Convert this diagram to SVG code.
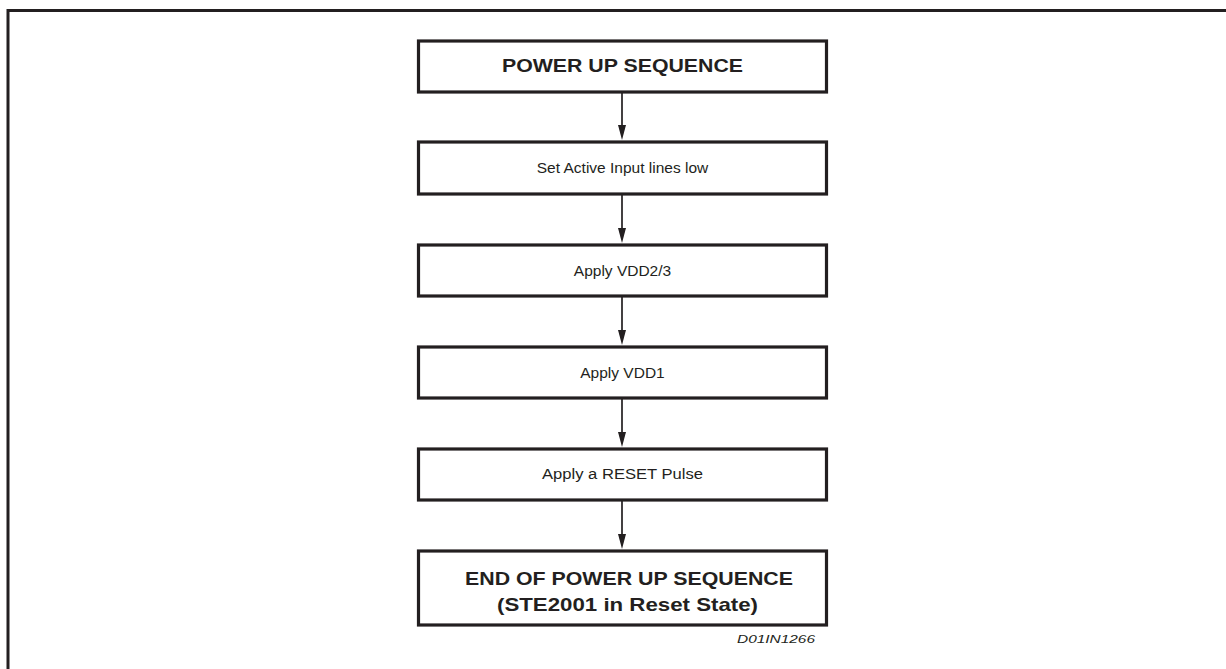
<svg xmlns="http://www.w3.org/2000/svg" width="1226" height="669" viewBox="0 0 1226 669">
<defs>
<style>
.frame{fill:none;stroke:#231f20;stroke-width:3}
.box{fill:#fff;stroke:#231f20;stroke-width:3.2}
.conn{stroke:#231f20;stroke-width:1.7;fill:none}
.head{fill:#231f20}
.t{font-family:"Liberation Sans",Arial,sans-serif;fill:#231f20;text-anchor:middle}
.b{font-weight:bold;font-size:19px}
.n{font-size:15.5px}
.c{font-family:"Liberation Sans",Arial,sans-serif;font-style:italic;font-size:10px;fill:#231f20;text-anchor:end}
</style>
</defs>
<rect class="frame" x="8" y="10.5" width="1240" height="680"/>
<g id="connectors">
<line class="conn" x1="622" y1="92" x2="622" y2="128"/>
<polygon class="head" points="618,125 626,125 622,140"/>
<line class="conn" x1="622" y1="194" x2="622" y2="231"/>
<polygon class="head" points="618,228 626,228 622,243"/>
<line class="conn" x1="622" y1="296" x2="622" y2="333"/>
<polygon class="head" points="618,330 626,330 622,345"/>
<line class="conn" x1="622" y1="398" x2="622" y2="435"/>
<polygon class="head" points="618,432 626,432 622,447"/>
<line class="conn" x1="622" y1="500" x2="622" y2="537"/>
<polygon class="head" points="618,534 626,534 622,549"/>
</g>
<g id="n1">
<rect class="box" x="418.5" y="41" width="408" height="51"/>
<text class="t b" x="622.5" y="72" textLength="241" lengthAdjust="spacingAndGlyphs">POWER UP SEQUENCE</text>
</g>
<g id="n2">
<rect class="box" x="418.5" y="142" width="408" height="52"/>
<text class="t n" x="622.5" y="173">Set Active Input lines low</text>
</g>
<g id="n3">
<rect class="box" x="418.5" y="245" width="408" height="51"/>
<text class="t n" x="622.5" y="275.5">Apply VDD2/3</text>
</g>
<g id="n4">
<rect class="box" x="418.5" y="347" width="408" height="51"/>
<text class="t n" x="622.5" y="377.5">Apply VDD1</text>
</g>
<g id="n5">
<rect class="box" x="418.5" y="449" width="408" height="51"/>
<text class="t n" x="622.5" y="479" textLength="161" lengthAdjust="spacingAndGlyphs">Apply a RESET Pulse</text>
</g>
<g id="n6">
<rect class="box" x="418.5" y="551" width="408" height="74"/>
<text class="t b" x="629" y="585" textLength="328" lengthAdjust="spacingAndGlyphs">END OF POWER UP SEQUENCE</text>
<text class="t b" x="627.5" y="611" textLength="261" lengthAdjust="spacingAndGlyphs">(STE2001 in Reset State)</text>
</g>
<text class="c" x="815" y="643" textLength="78" lengthAdjust="spacingAndGlyphs">D01IN1266</text>
</svg>
